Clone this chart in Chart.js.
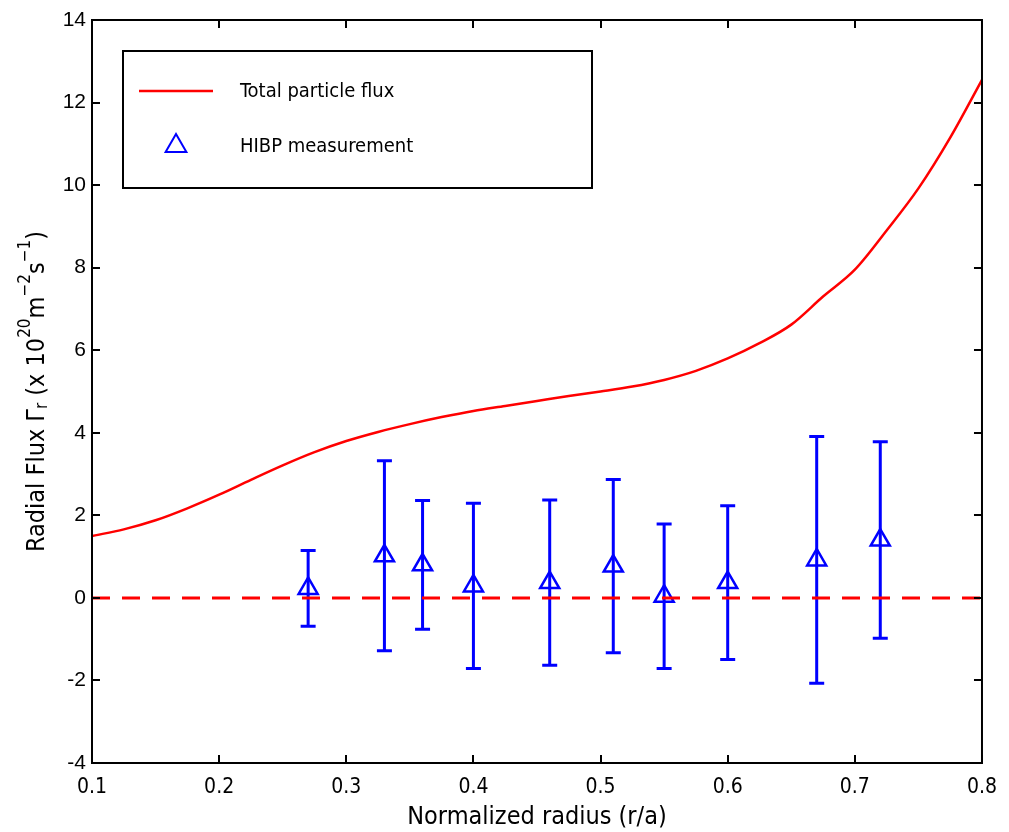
<!DOCTYPE html>
<html lang="en">
<head>
    <meta charset="UTF-8">
    <title>Radial particle flux vs normalized radius</title>
    <style>
        html, body {
            margin: 0;
            padding: 0;
            background-color: #ffffff;
        }

        .chart-box {
            width: 1009px;
            height: 832px;
        }
    </style>
</head>
<body>
    <div class="chart-box">
        <canvas id="fluxChart" width="1009" height="832"></canvas>
    </div>

    <script src="https://cdn.jsdelivr.net/npm/chart.js"></script>
    <script>
        // total particle flux curve (red)
        const fluxX = [0.100, 0.125, 0.150, 0.175, 0.200, 0.225, 0.250, 0.275, 0.300, 0.325,
                       0.350, 0.375, 0.400, 0.425, 0.450, 0.475, 0.500, 0.525, 0.550, 0.575,
                       0.600, 0.625, 0.650, 0.675, 0.700, 0.725, 0.750, 0.775, 0.800];
        const fluxY = [1.50, 1.66, 1.88, 2.17, 2.50, 2.86, 3.21, 3.53, 3.80, 4.02,
                       4.21, 4.38, 4.53, 4.65, 4.77, 4.89, 5.00, 5.12, 5.28, 5.50,
                       5.80, 6.17, 6.62, 7.30, 7.95, 8.90, 9.92, 11.15, 12.55];

        // HIBP measurements with error bars (blue)
        const hibpX = [0.27, 0.33, 0.36, 0.40, 0.46, 0.51, 0.55, 0.60, 0.67, 0.72];
        const hibpY = [0.23, 1.02, 0.80, 0.29, 0.37, 0.77, 0.04, 0.37, 0.92, 1.40];
        const hibpErr = [0.92, 2.30, 1.56, 2.00, 2.00, 2.10, 1.75, 1.86, 2.99, 2.38];

        // zero reference line (red dashed)
        const zeroX = [0.1, 0.8];
        const zeroY = [0, 0];

        const xTicks = [0.1, 0.2, 0.3, 0.4, 0.5, 0.6, 0.7, 0.8];
        const yTicks = [-4, -2, 0, 2, 4, 6, 8, 10, 12, 14];

        const legendLabels = ['Total particle flux', 'HIBP measurement'];
        const xTitle = 'Normalized radius (r/a)';

        const NARROW = "'Liberation Sans Narrow', 'DejaVu Sans Condensed', 'Liberation Sans', sans-serif";
        const RED = '#ff0000';
        const BLUE = '#0000ff';

        const toPoints = (xs, ys) => xs.map((x, i) => ({ x: x, y: ys[i] }));

        // error bars, drawn under the markers
        const errorBars = {
            id: 'errorBars',
            beforeDatasetsDraw(chart) {
                const ctx = chart.ctx;
                const xs = chart.scales.x, ys = chart.scales.y;
                ctx.save();
                ctx.strokeStyle = BLUE;
                ctx.lineWidth = 3;
                hibpX.forEach((xv, i) => {
                    const px = xs.getPixelForValue(xv);
                    const top = ys.getPixelForValue(hibpY[i] + hibpErr[i]);
                    const bot = ys.getPixelForValue(hibpY[i] - hibpErr[i]);
                    ctx.beginPath();
                    ctx.moveTo(px, top);
                    ctx.lineTo(px, bot);
                    ctx.moveTo(px - 7.5, top);
                    ctx.lineTo(px + 7.5, top);
                    ctx.moveTo(px - 7.5, bot);
                    ctx.lineTo(px + 7.5, bot);
                    ctx.stroke();
                });
                ctx.restore();
            }
        };

        // frame, inward ticks on all sides, y title with super/subscripts, legend box
        const decorations = {
            id: 'decorations',
            afterDraw(chart) {
                const ctx = chart.ctx;
                const a = chart.chartArea;
                const xs = chart.scales.x, ys = chart.scales.y;
                ctx.save();

                ctx.strokeStyle = '#000';
                ctx.lineWidth = 2;
                ctx.strokeRect(a.left, a.top, a.right - a.left, a.bottom - a.top);

                ctx.beginPath();
                xTicks.forEach(v => {
                    const px = Math.round(xs.getPixelForValue(v));
                    ctx.moveTo(px, a.bottom); ctx.lineTo(px, a.bottom - 8);
                    ctx.moveTo(px, a.top); ctx.lineTo(px, a.top + 8);
                });
                yTicks.forEach(v => {
                    const py = Math.round(ys.getPixelForValue(v));
                    ctx.moveTo(a.left, py); ctx.lineTo(a.left + 8, py);
                    ctx.moveTo(a.right, py); ctx.lineTo(a.right - 8, py);
                });
                ctx.stroke();

                // y axis title
                const parts = [
                    ['Radial Flux \u0393', 0, 25],
                    ['r', 6, 17],
                    [' (x 10', 0, 25],
                    ['20', -11, 17],
                    ['m', 0, 25],
                    ['\u22122', -11, 17],
                    ['s', 0, 25],
                    ['\u22121', -11, 17],
                    [')', 0, 25]
                ];
                let total = 0;
                parts.forEach(p => {
                    ctx.font = p[2] + 'px ' + NARROW;
                    total += ctx.measureText(p[0]).width;
                });
                ctx.translate(37, (a.top + a.bottom) / 2);
                ctx.rotate(-Math.PI / 2);
                ctx.fillStyle = '#000';
                ctx.textBaseline = 'middle';
                let cx = -total / 2;
                parts.forEach(p => {
                    ctx.font = p[2] + 'px ' + NARROW;
                    ctx.fillText(p[0], cx, p[1]);
                    cx += ctx.measureText(p[0]).width;
                });
                ctx.setTransform(1, 0, 0, 1, 0, 0);

                // legend
                ctx.lineWidth = 2;
                ctx.strokeStyle = '#000';
                ctx.strokeRect(123, 51, 469, 137);
                ctx.strokeStyle = RED;
                ctx.lineWidth = 2.5;
                ctx.beginPath();
                ctx.moveTo(139, 91);
                ctx.lineTo(213, 91);
                ctx.stroke();
                ctx.strokeStyle = BLUE;
                ctx.lineWidth = 2;
                const r = 12;
                ctx.beginPath();
                ctx.moveTo(176, 146 - r);
                ctx.lineTo(176 + r * 0.866, 146 + r / 2);
                ctx.lineTo(176 - r * 0.866, 146 + r / 2);
                ctx.closePath();
                ctx.stroke();
                ctx.fillStyle = '#000';
                ctx.font = '20px ' + NARROW;
                ctx.textBaseline = 'middle';
                ctx.fillText(legendLabels[0], 240, 92);
                ctx.fillText(legendLabels[1], 240, 147);

                ctx.restore();
            }
        };

        const ctx = document.getElementById('fluxChart').getContext('2d');
        const fluxChart = new Chart(ctx, {
            type: 'line',
            data: {
                datasets: [{
                    label: legendLabels[0],
                    data: toPoints(fluxX, fluxY),
                    borderColor: RED,
                    borderWidth: 2.5,
                    pointRadius: 0,
                    cubicInterpolationMode: 'monotone',
                    fill: false
                }, {
                    label: 'zero',
                    data: toPoints(zeroX, zeroY),
                    borderColor: RED,
                    borderWidth: 3,
                    borderDash: [18, 12],
                    pointRadius: 0,
                    fill: false
                }, {
                    label: legendLabels[1],
                    data: toPoints(hibpX, hibpY),
                    showLine: false,
                    pointStyle: 'triangle',
                    pointRadius: 11,
                    pointBorderWidth: 2.5,
                    pointBorderColor: BLUE,
                    pointBackgroundColor: 'rgba(0,0,0,0)'
                }]
            },
            options: {
                responsive: false,
                animation: false,
                devicePixelRatio: 1,
                layout: {
                    padding: { top: 20, right: 18, left: 0, bottom: 0 }
                },
                plugins: {
                    legend: { display: false },
                    tooltip: { enabled: false }
                },
                scales: {
                    x: {
                        type: 'linear',
                        min: 0.1,
                        max: 0.8,
                        afterBuildTicks: s => { s.ticks = xTicks.map(v => ({ value: v })); },
                        afterFit: s => { s.height = 69; },
                        grid: { display: false, drawTicks: false },
                        border: { display: false },
                        ticks: {
                            padding: 12,
                            color: '#000',
                            font: { family: NARROW, size: 21 },
                            callback: v => v.toFixed(1)
                        },
                        title: {
                            display: true,
                            text: xTitle,
                            color: '#000',
                            font: { family: NARROW, size: 25 },
                            padding: { top: 0, bottom: 0 }
                        }
                    },
                    y: {
                        type: 'linear',
                        min: -4,
                        max: 14,
                        afterBuildTicks: s => { s.ticks = yTicks.map(v => ({ value: v })); },
                        afterFit: s => { s.width = 92; },
                        grid: { display: false, drawTicks: false },
                        border: { display: false },
                        ticks: {
                            padding: 6,
                            color: '#000',
                            font: { family: "'Liberation Sans', Arial, sans-serif", size: 21 },
                            callback: v => String(v)
                        }
                    }
                }
            },
            plugins: [errorBars, decorations]
        });
    </script>
</body>
</html>
